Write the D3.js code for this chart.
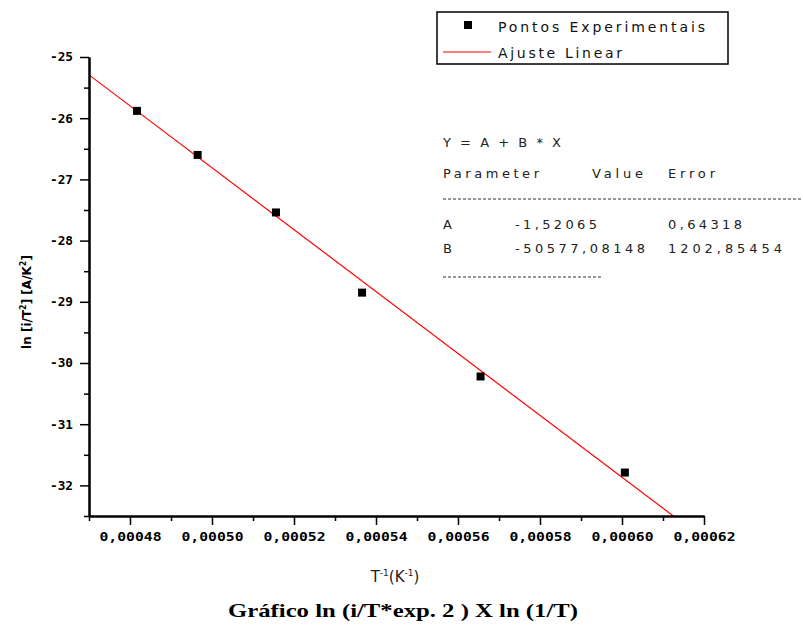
<!DOCTYPE html>
<html>
<head>
<meta charset="utf-8">
<script src="https://cdn.jsdelivr.net/npm/d3@7"></script>
<style>
  body { margin: 0; background: #fff; }
  text { font-family: "DejaVu Sans", sans-serif; }
</style>
</head>
<body>
<div id="chart"></div>
<script>
// data
var invT = [0.0004817, 0.0004965, 0.0005156, 0.0005366, 0.0005655, 0.0006007];
var lnI  = [-25.88, -26.60, -27.54, -28.85, -30.22, -31.79];

// linear fit Y = A + B * X
var fitA = -1.52065, fitB = -50577.08148;
var fitErrA = 0.64318, fitErrB = 1202.85454;

var xTicks = [0.00048, 0.00050, 0.00052, 0.00054, 0.00056, 0.00058, 0.00060, 0.00062];
var xMinor = [0.00047, 0.00049, 0.00051, 0.00053, 0.00055, 0.00057, 0.00059, 0.00061];
var yTicks = [-25, -26, -27, -28, -29, -30, -31, -32];
var yMinor = [-25.5, -26.5, -27.5, -28.5, -29.5, -30.5, -31.5, -32.5];

var W = 803, H = 625;
var margin = {top: 57, right: 99, bottom: 109, left: 89},
    width = W - margin.left - margin.right,
    height = H - margin.top - margin.bottom;

var svg = d3.select("#chart")
  .append("svg")
    .attr("width", W)
    .attr("height", H);

var g = svg.append("g")
    .attr("transform", "translate(" + margin.left + "," + margin.top + ")");

var x = d3.scaleLinear().domain([0.00047, 0.00062]).range([0, width]);
var y = d3.scaleLinear().domain([-32.5, -25]).range([height, 0]);

// comma decimals, plain hyphen minus
var hy = function(s) { return s.replace("\u2212", "-"); };
var fmtX = function(d) { return d3.format(".5f")(d).replace(".", ","); };
var fmtY = function(d) { return hy(d3.format("d")(d)); };

// clip for fit line
svg.append("clipPath").attr("id", "plotclip")
  .append("rect").attr("x", 0).attr("y", 0).attr("width", width).attr("height", height);

// fit line
var x0 = x.domain()[0];
var x1 = (y.domain()[0] - fitA) / fitB;
g.append("line")
    .attr("clip-path", "url(#plotclip)")
    .attr("x1", x(x0)).attr("y1", y(fitA + fitB * x0))
    .attr("x2", x(x1)).attr("y2", y(fitA + fitB * x1))
    .attr("stroke", "#ff0000")
    .attr("stroke-width", 1.2);

// points
g.selectAll("rect.pt")
  .data(invT)
  .enter().append("rect")
    .attr("class", "pt")
    .attr("x", function(d) { return x(d) - 4; })
    .attr("y", function(d, i) { return y(lnI[i]) - 4; })
    .attr("width", 8)
    .attr("height", 8)
    .attr("fill", "#000");

// axes
var xAxis = g.append("g")
    .attr("transform", "translate(0," + height + ")")
    .call(d3.axisBottom(x).tickValues(xTicks).tickSize(9).tickFormat(fmtX).tickSizeOuter(0));
g.append("g")
    .attr("transform", "translate(0," + height + ")")
    .call(d3.axisBottom(x).tickValues(xMinor).tickSize(5).tickFormat("").tickSizeOuter(0));

var yAxis = g.append("g")
    .call(d3.axisLeft(y).tickValues(yTicks).tickSize(9).tickFormat(fmtY).tickSizeOuter(0));
g.append("g")
    .call(d3.axisLeft(y).tickValues(yMinor).tickSize(5).tickFormat("").tickSizeOuter(0));

g.selectAll(".domain").attr("stroke", "#000").attr("stroke-width", 2);
g.selectAll(".tick line").attr("stroke", "#000").attr("stroke-width", 1.5);

xAxis.selectAll("text")
    .attr("y", 16)
    .attr("font-size", "12px")
    .attr("font-weight", "bold")
    .attr("fill", "#000")
    .attr("textLength", 62)
    .attr("lengthAdjust", "spacingAndGlyphs")
    .style("font-family", "'DejaVu Sans Mono', monospace");

yAxis.selectAll("text")
    .attr("x", -16)
    .attr("font-size", "12px")
    .attr("font-weight", "bold")
    .attr("fill", "#000")
    .attr("textLength", 23)
    .attr("lengthAdjust", "spacingAndGlyphs")
    .style("font-family", "'DejaVu Sans Mono', monospace");

// axis titles
var yl = svg.append("text")
    .attr("transform", "translate(31,302) rotate(-90)")
    .attr("text-anchor", "middle")
    .attr("font-size", "12px")
    .attr("font-weight", "bold");
yl.append("tspan").text("ln [i/T");
yl.append("tspan").attr("dy", -5).attr("font-size", "8px").text("2");
yl.append("tspan").attr("dy", 5).text("] [A/K");
yl.append("tspan").attr("dy", -5).attr("font-size", "8px").text("2");
yl.append("tspan").attr("dy", 5).text("]");

var xl = svg.append("text")
    .attr("x", 395)
    .attr("y", 582)
    .attr("text-anchor", "middle")
    .attr("font-size", "15px")
    .attr("fill", "#222");
xl.append("tspan").text("T");
xl.append("tspan").attr("dy", -6).attr("font-size", "9px").text("-1");
xl.append("tspan").attr("dy", 6).text("(K");
xl.append("tspan").attr("dy", -6).attr("font-size", "9px").text("-1");
xl.append("tspan").attr("dy", 6).text(")");

svg.append("text")
    .attr("x", 228)
    .attr("y", 617)
    .attr("font-size", "19px")
    .attr("font-weight", "bold")
    .attr("textLength", 350)
    .attr("lengthAdjust", "spacingAndGlyphs")
    .style("font-family", "'Liberation Serif', serif")
    .text("Gráfico ln (i/T*exp. 2 ) X ln (1/T)");

// legend
var leg = svg.append("g");
leg.append("rect")
    .attr("x", 437).attr("y", 12).attr("width", 291).attr("height", 52)
    .attr("fill", "none").attr("stroke", "#000").attr("stroke-width", 1.5);
leg.append("rect")
    .attr("x", 464).attr("y", 21).attr("width", 8).attr("height", 8).attr("fill", "#000");
leg.append("line")
    .attr("x1", 443).attr("x2", 491).attr("y1", 52).attr("y2", 52)
    .attr("stroke", "#ff0000").attr("stroke-width", 1.2);
leg.append("text")
    .attr("x", 498).attr("y", 32)
    .attr("font-size", "14px").attr("fill", "#111")
    .attr("textLength", 207).attr("lengthAdjust", "spacing")
    .text("Pontos Experimentais");
leg.append("text")
    .attr("x", 498).attr("y", 58)
    .attr("font-size", "14px").attr("fill", "#111")
    .attr("textLength", 124).attr("lengthAdjust", "spacing")
    .text("Ajuste Linear");

// fit parameters table
var fmtP = function(v) { return hy(d3.format(".5f")(v).replace(".", ",")); };
var tbl = svg.append("g")
    .attr("font-size", "13px")
    .attr("fill", "#222");
function tt(txt, xp, yp, len) {
  var t = tbl.append("text").attr("x", xp).attr("y", yp).text(txt);
  if (len) t.attr("textLength", len).attr("lengthAdjust", "spacing");
  return t;
}
tt("Y =  A + B * X", 443, 147, 118);
tt("Parameter", 443, 178, 96);
tt("Value", 592, 178, 51);
tt("Error", 668, 178, 47);
tt("A", 443, 229);
tt(fmtP(fitA), 515, 229, 82);
tt(fmtP(fitErrA), 668, 229, 74);
tt("B", 443, 253);
tt(fmtP(fitB), 515, 253, 130);
tt(fmtP(fitErrB), 668, 253, 114);

tbl.append("line")
    .attr("x1", 443).attr("x2", 803).attr("y1", 199).attr("y2", 199)
    .attr("stroke", "#333").attr("stroke-dasharray", "3,2");
tbl.append("line")
    .attr("x1", 443).attr("x2", 603).attr("y1", 277).attr("y2", 277)
    .attr("stroke", "#333").attr("stroke-dasharray", "3,2");
</script>
</body>
</html>
